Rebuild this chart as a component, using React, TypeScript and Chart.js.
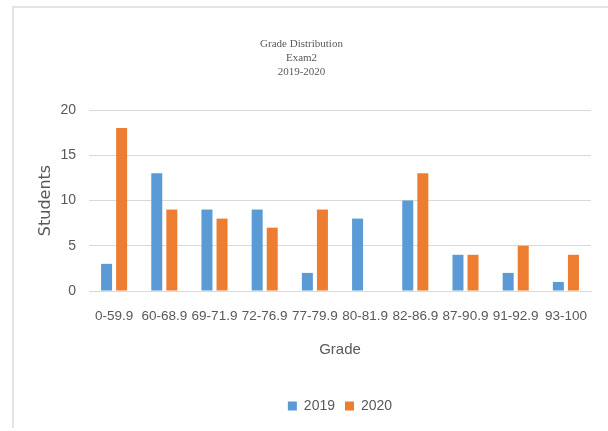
import React, { useEffect, useRef } from "react";
import { Chart, registerables } from "chart.js";

Chart.register(...registerables);

const categories = ["0-59.9", "60-68.9", "69-71.9", "72-76.9", "77-79.9", "80-81.9", "82-86.9", "87-90.9", "91-92.9", "93-100"];
const values2019 = [3, 13, 9, 9, 2, 8, 10, 4, 2, 1];
const values2020 = [18, 9, 8, 7, 9, 0, 13, 4, 5, 4];
const titleLines = ["Grade Distribution", "Exam2", "2019-2020"];
const yTicks = [0, 5, 10, 15, 20];

const TEXT = "#595959";
const GRID = "#d9d9d9";

export default function App() {
  const ref = useRef<HTMLCanvasElement | null>(null);

  useEffect(() => {
    document.body.style.margin = "0";
    const canvas = ref.current;
    if (!canvas) return;
    const chart = new Chart(canvas, {
      type: "bar",
      data: {
        labels: categories,
        datasets: [
          { label: "2019", data: values2019, backgroundColor: "#5B9BD5", categoryPercentage: 0.6, barPercentage: 0.73 },
          { label: "2020", data: values2020, backgroundColor: "#ED7D31", categoryPercentage: 0.6, barPercentage: 0.73 },
        ],
      },
      options: {
        animation: false,
        responsive: false,
        maintainAspectRatio: false,
        layout: { padding: { left: 12, right: 17, top: 0, bottom: 8 } },
        plugins: {
          title: {
            display: true,
            text: titleLines,
            color: TEXT,
            font: { family: "'Liberation Serif', serif", size: 11, weight: "normal", lineHeight: "14px" },
            padding: { top: 37, bottom: 31 },
          },
          legend: {
            position: "bottom",
            fullSize: false,
            labels: {
              color: TEXT,
              boxWidth: 9,
              boxHeight: 9,
              padding: 10,
              font: { family: "'Liberation Sans', sans-serif", size: 14 },
            },
          },
          tooltip: { enabled: false },
        },
        scales: {
          x: {
            grid: { display: false, drawTicks: false },
            border: { display: true, color: GRID, width: 1 },
            ticks: {
              color: TEXT,
              autoSkip: false,
              maxRotation: 0,
              minRotation: 0,
              padding: 17,
              font: { family: "'Liberation Sans', sans-serif", size: 13.5 },
            },
            title: {
              display: true,
              text: "Grade",
              color: TEXT,
              font: { family: "'Liberation Sans', sans-serif", size: 15 },
              padding: { top: 0, bottom: 30 },
            },
            afterFit: (scale: any) => {
              scale.height = 98;
            },
          },
          y: {
            min: 0,
            max: 20,
            grid: { color: GRID, lineWidth: 1, drawTicks: false },
            border: { display: false },
            afterBuildTicks: (scale: any) => {
              scale.ticks = yTicks.map((v) => ({ value: v }));
            },
            ticks: {
              color: TEXT,
              padding: 13,
              font: { family: "'Liberation Sans', sans-serif", size: 14 },
            },
            title: {
              display: true,
              text: "Students",
              color: TEXT,
              font: { family: "'DejaVu Sans', sans-serif", size: 16 },
              padding: { top: 24, bottom: 0 },
            },
            afterFit: (scale: any) => {
              scale.width = 77;
            },
          },
        },
      },
    });
    return () => chart.destroy();
  }, []);

  return (
    <div style={{ position: "fixed", left: 0, top: 0, width: 608, height: 431, background: "#fff" }}>
      <div
        style={{
          position: "absolute",
          left: 12,
          top: 6,
          right: 0,
          bottom: 3,
          borderTop: "2px solid #e4e4e4",
          borderLeft: "2px solid #e4e4e4",
        }}
      />
      <canvas ref={ref} width={608} height={431} style={{ position: "absolute", left: 0, top: 0 }} />
    </div>
  );
}
